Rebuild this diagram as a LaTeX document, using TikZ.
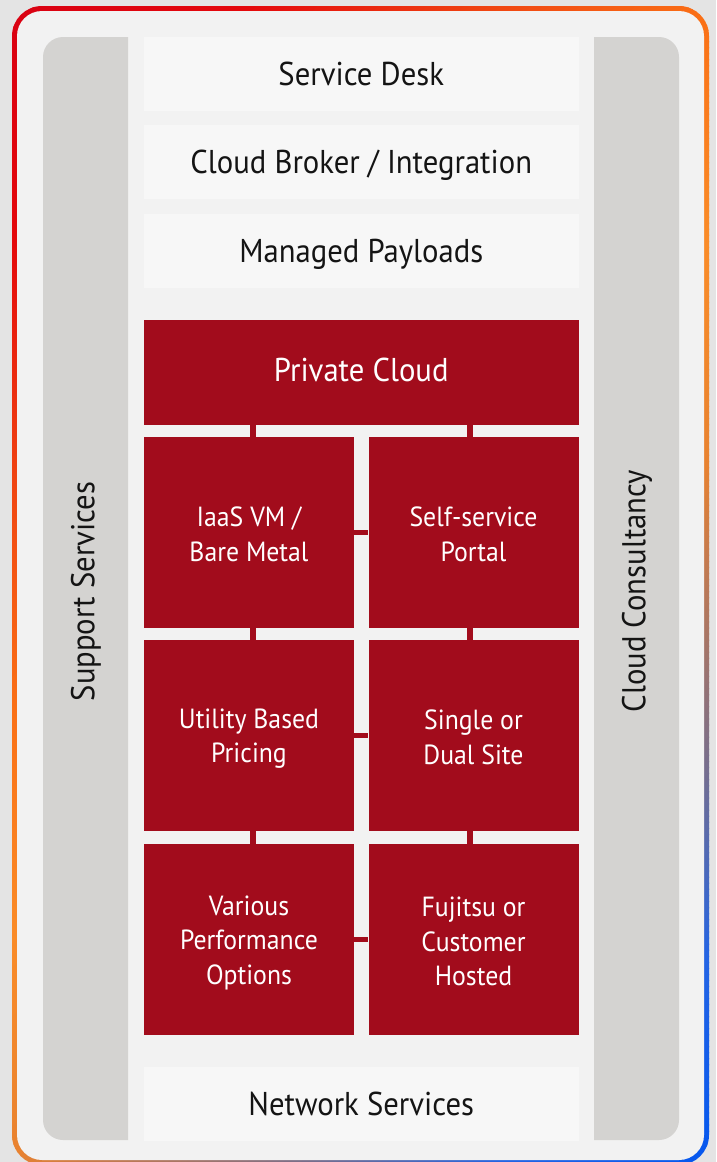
\documentclass[tikz,border=0pt]{standalone}
\usepackage{fontspec}
\setmainfont{PT Sans}[FakeStretch=0.93]
\definecolor{outerbg}{RGB}{228,228,228}
\definecolor{innerbg}{RGB}{242,242,242}
\definecolor{whitebox}{RGB}{247,247,247}
\definecolor{sidebar}{RGB}{212,211,209}
\definecolor{fjred}{RGB}{162,12,28}
\definecolor{ink}{RGB}{20,20,20}
\definecolor{g0}{RGB}{215,0,20}
\definecolor{g1}{RGB}{228,8,12}
\definecolor{g2}{RGB}{240,70,18}
\definecolor{g3}{RGB}{250,112,22}
\definecolor{g4}{RGB}{250,140,40}
\definecolor{g5}{RGB}{232,130,48}
\definecolor{g6}{RGB}{195,122,80}
\definecolor{g7}{RGB}{120,110,140}
\definecolor{g8}{RGB}{35,100,228}
\definecolor{g9}{RGB}{0,85,240}
\newcommand{\topstrut}{\rule{0pt}{26pt}}
\newcommand{\botstrut}{\rule[-3pt]{0pt}{3pt}}
\begin{document}
\begin{tikzpicture}[x=1pt,y=-1pt,
  wbox/.style={fill=whitebox, text=ink, minimum width=434.5pt, minimum height=74pt, inner sep=0pt, text height=23pt, text depth=0pt, font=\fontsize{33}{40}\selectfont},
  rbox/.style={fill=fjred, text=white, inner sep=0pt, align=center, font=\fontsize{27.7}{34.5}\selectfont},
  cell/.style={rbox, minimum width=210pt, minimum height=191pt},
  conn/.style={draw=fjred, line width=5.5pt},
  sidelabel/.style={text=ink, rotate=90, inner sep=0pt, font=\fontsize{33}{40}\selectfont}
]
\useasboundingbox (0,0) rectangle (716,1162);
\fill[outerbg] (0,0) rectangle (716,1162);
% gradient frame
\begin{scope}
  \path[rounded corners=30pt, clip] (12,6) rectangle (709,1165);
  \foreach \sa/\sb/\ca/\cb in {-20/250/g0/g1, 250/500/g1/g2, 500/720/g2/g3, 720/950/g3/g4, 950/1170/g4/g5, 1170/1270/g5/g6, 1270/1470/g6/g7, 1470/1665/g7/g8, 1665/1900/g8/g9}{
    \pgfmathtruncatemacro\n{(\sb-\sa)/6}
    \foreach \j in {1,...,\n}{
      \pgfmathsetmacro\xa{\sa+(\sb-\sa)*(\j-1)/\n}
      \pgfmathsetmacro\xb{\sa+(\sb-\sa)*\j/\n+1}
      \pgfmathtruncatemacro\pc{100*(\j-0.5)/\n}
      \fill[\cb!\pc!\ca] (\xa,0) -- (\xb,0) -- (\xb-1300,1300) -- (\xa-1300,1300) -- cycle;
    }
  }
\end{scope}
\fill[innerbg, rounded corners=25pt] (17,11) rectangle (704,1160);
% side bars
\begin{scope}
  \clip (0,0) rectangle (128,1162);
  \fill[sidebar, rounded corners=20pt] (43,37) rectangle (170,1140);
\end{scope}
\begin{scope}
  \clip (594,0) rectangle (716,1162);
  \fill[sidebar, rounded corners=20pt] (550,37) rectangle (679,1140);
\end{scope}
\node[sidelabel] (sup) at (86,591.5) {Support Services};
\node[sidelabel] (cons) at (637,591) {Cloud Consultancy};
% white layers
\node[wbox] (sd) at (361.25,74) {Service Desk};
\node[wbox] (cb) at (361.25,162) {Cloud Broker / Integration};
\node[wbox] (mp) at (361.25,251) {Managed Payloads};
\node[wbox] (ns) at (361.25,1103.5) {Network Services};
% private cloud
\node[rbox, minimum width=434.5pt, minimum height=105pt, text height=18.5pt, text depth=0pt, font=\fontsize{33}{40}\selectfont] (pc) at (361.25,372.5) {Private Cloud};
\node[cell] (c11) at (249,532.5) {\topstrut IaaS VM /\\Bare Metal\botstrut};
\node[cell] (c12) at (473.5,532.5) {\topstrut Self-service\\Portal\botstrut};
\node[cell] (c21) at (249,735.5) {\topstrut Utility Based\\Pricing\botstrut};
\node[cell] (c22) at (473.5,735.5) {\topstrut Single or\\Dual Site\botstrut};
\node[cell] (c31) at (249,939.5) {\topstrut Various\\Performance\\Options\botstrut};
\node[cell] (c32) at (473.5,939.5) {\topstrut Fujitsu or\\Customer\\Hosted\botstrut};
\coordinate (cl) at (253,0);
\coordinate (cr) at (470,0);
\draw[conn] (pc.south -| cl) -- (c11.north -| cl);
\draw[conn] (pc.south -| cr) -- (c12.north -| cr);
\draw[conn] (c11.south -| cl) -- (c21.north -| cl);
\draw[conn] (c12.south -| cr) -- (c22.north -| cr);
\draw[conn] (c21.south -| cl) -- (c31.north -| cl);
\draw[conn] (c22.south -| cr) -- (c32.north -| cr);
\draw[conn] (c11.east) -- (c12.west);
\draw[conn] (c21.east) -- (c22.west);
\draw[conn] (c31.east) -- (c32.west);
\end{tikzpicture}
\end{document}
